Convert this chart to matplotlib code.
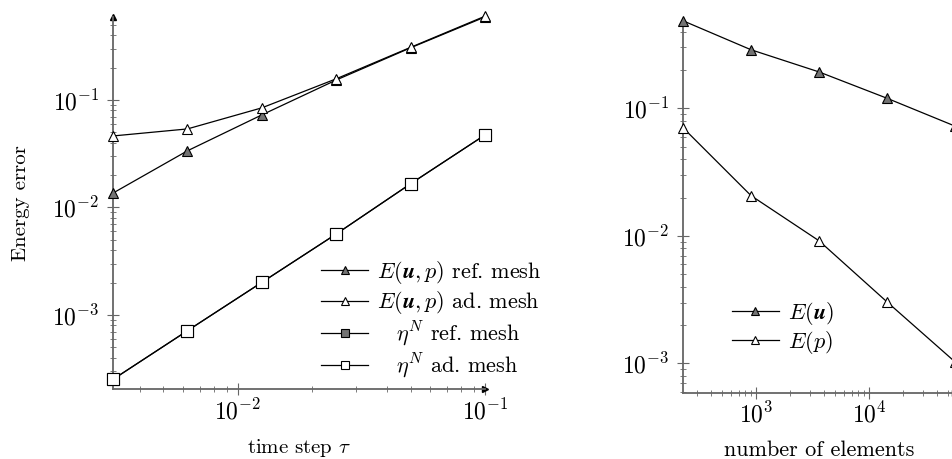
import numpy as np
import matplotlib.pyplot as plt
from matplotlib.ticker import LogLocator, NullFormatter

plt.rcParams['font.family'] = 'serif'
plt.rcParams['font.serif'] = ['cmr10']
plt.rcParams['mathtext.fontset'] = 'cm'
plt.rcParams['axes.formatter.use_mathtext'] = True

# left panel: energy error vs time step
tau = [0.003125, 0.00625, 0.0125, 0.025, 0.05, 0.1]
E_ref = [0.0136, 0.0336, 0.0725, 0.153, 0.305, 0.59]
E_ad = [0.0462, 0.0537, 0.0843, 0.157, 0.308, 0.60]
eta_ref = [2.52e-4, 7.14e-4, 2.01e-3, 5.66e-3, 0.0166, 0.0472]
eta_ad = [2.52e-4, 7.14e-4, 2.01e-3, 5.66e-3, 0.0166, 0.0472]

# right panel: error vs number of elements
n_elem = [224, 896, 3584, 14336, 57344]
E_u = [0.486, 0.288, 0.193, 0.120, 0.0726]
E_p = [0.0705, 0.0207, 0.00916, 0.00304, 0.00103]

GRAY = '0.45'
AX = '0.4'


def style(ax):
    ax.set_xscale('log')
    ax.set_yscale('log')
    for s in ('top', 'right'):
        ax.spines[s].set_visible(False)
    for s in ('left', 'bottom'):
        ax.spines[s].set_color(AX)
        ax.spines[s].set_linewidth(1.3)
    ax.tick_params(which='major', direction='inout', length=8, width=0.8,
                   color=AX, labelsize=17, pad=6)
    ax.tick_params(axis='x', which='major', pad=3)
    ax.tick_params(which='minor', direction='inout', length=5, width=0.6, color=AX)
    ax.xaxis.set_minor_locator(LogLocator(base=10, subs=np.arange(2, 10), numticks=20))
    ax.yaxis.set_minor_locator(LogLocator(base=10, subs=np.arange(2, 10), numticks=20))
    ax.xaxis.set_minor_formatter(NullFormatter())
    ax.yaxis.set_minor_formatter(NullFormatter())
    # arrow heads at the axis ends
    ax.plot(1, 0, '>', ms=4, color='k', transform=ax.transAxes, clip_on=False)
    ax.plot(0, 1, '^', ms=4, color='k', transform=ax.transAxes, clip_on=False)


fig = plt.figure(figsize=(9.53, 4.59), dpi=100)
ax1 = fig.add_axes([0.1186, 0.152, 0.3903, 0.811])
ax2 = fig.add_axes([0.7167, 0.1444, 0.2854, 0.8076])

kw = dict(color='k', lw=0.9, mec='k', mew=0.8, clip_on=False, zorder=3)

ax1.plot(tau, E_ref, marker='^', ms=7, mfc=GRAY, label=r'$E(\mathbfit{u},p)$ ref. mesh', **kw)
ax1.plot(tau, E_ad, marker='^', ms=7, mfc='white', label=r'$E(\mathbfit{u},p)$ ad. mesh', **kw)
ax1.plot(tau, eta_ref, marker='s', ms=8, mfc=GRAY, label=r'$\quad\eta^N$ ref. mesh', **kw)
ax1.plot(tau, eta_ad, marker='s', ms=8, mfc='white', label=r'$\quad\eta^N$ ad. mesh', **kw)
style(ax1)
ax1.set_xlim(0.003125, 0.1)
ax1.set_ylim(2.04e-4, 0.59)
ax1.set_xlabel(r'time step $\tau$', fontsize=15, labelpad=9)
ax1.set_ylabel('Energy error', fontsize=15, labelpad=16)
ax1.legend(loc='upper left', bbox_to_anchor=(0.56, 0.35), frameon=False,
           fontsize=16, handlelength=2.1, handletextpad=0.4, labelspacing=0.15,
           borderpad=0, borderaxespad=0, markerscale=0.8)

ax2.plot(n_elem, E_u, marker='^', ms=7, mfc=GRAY, label=r'$E(\mathbfit{u})$', **kw)
ax2.plot(n_elem, E_p, marker='^', ms=7, mfc='white', label=r'$E(p)$', **kw)
style(ax2)
ax2.set_xlim(224, 57344)
ax2.set_ylim(5.9e-4, 0.475)
ax2.set_xlabel('number of elements', fontsize=16, labelpad=9)
ax2.legend(loc='upper left', bbox_to_anchor=(0.18, 0.25), frameon=False,
           fontsize=16, handlelength=2.1, handletextpad=0.4, labelspacing=0.1,
           borderpad=0, borderaxespad=0, markerscale=0.8)

fig.savefig('out.png', dpi=100)
